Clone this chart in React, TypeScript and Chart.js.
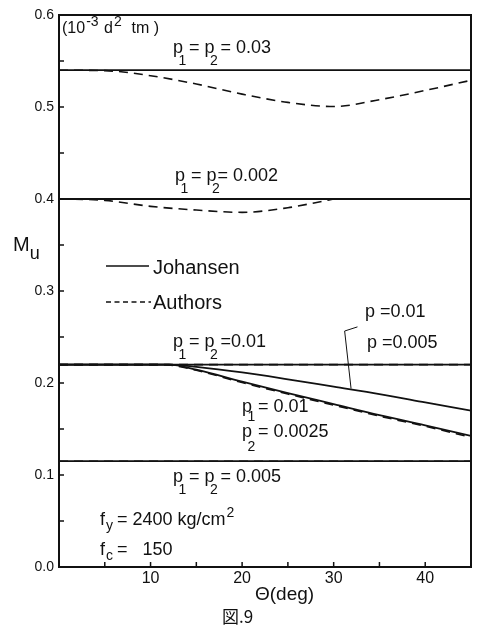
import React, { useEffect, useRef } from 'react';
import { Chart, registerables } from 'chart.js';

Chart.register(...registerables);

// ---- axis ranges / tick labels ----
const X_MIN = 0;
const X_MAX = 45;
const Y_MIN = 0;
const Y_MAX = 0.6;
const xLabeledTicks = [10, 20, 30, 40];
const yLabeledTicks = [0, 0.1, 0.2, 0.3, 0.4, 0.5, 0.6];

// ---- Johansen (solid) ----
const thetaFull = [0, 45];
const johansenP003 = [0.54, 0.54];
const johansenP0002 = [0.4, 0.4];
const johansenP001 = [0.22, 0.22];
const johansenP0005 = [0.115, 0.115];

const thetaUnsym = [0, 5, 10, 12, 15, 20, 25, 30, 35, 40, 45];
const johansenP001P0005 = [0.22, 0.22, 0.22, 0.22, 0.2175, 0.2115, 0.204, 0.196, 0.188, 0.179, 0.17];
const johansenP001P00025 = [0.22, 0.22, 0.22, 0.22, 0.2145, 0.2015, 0.189, 0.177, 0.165, 0.154, 0.1424];

// ---- Authors (dashed) ----
const thetaAuthors003 = [0, 5, 10, 15, 20, 25, 30, 35, 40, 45];
const authorsP003 = [0.54, 0.5395, 0.534, 0.525, 0.514, 0.505, 0.5005, 0.508, 0.518, 0.529];
const thetaAuthors0002 = [0, 5, 10, 15, 20, 25, 28, 30];
const authorsP0002 = [0.4, 0.3985, 0.392, 0.388, 0.3855, 0.3905, 0.396, 0.4];
const authorsP001 = [0.22, 0.22];
const authorsP001P00025 = [0.22, 0.22, 0.22, 0.2195, 0.2138, 0.2005, 0.188, 0.176, 0.164, 0.153, 0.141];
const authorsP0005 = [0.115, 0.115];

// ---- leader line for "p=0.01 / p=0.005" label ----
const leaderTheta = [32.6, 31.2, 31.9];
const leaderMu = [0.261, 0.2565, 0.194];

const FONT = '"Liberation Sans", Arial, sans-serif';
const INK = '#111';

type Seg = { t: string; sub?: boolean; sup?: boolean; dy?: number; dx?: number; adv?: number; size?: number };
type Note = { x: number; y: number; size: number; segs: Seg[]; font?: string };

const notes: Note[] = [
  { x: 62, y: 33, size: 16, segs: [{ t: '(10' }, { t: '-3', sup: true, size: 14 }, { t: ' d' }, { t: '2', sup: true, size: 14 }, { t: '  tm )' }] },
  { x: 173, y: 53, size: 18, segs: [{ t: 'p' }, { t: '1', sub: true }, { t: ' = p' }, { t: '2', sub: true }, { t: ' = 0.03' }] },
  { x: 175, y: 181, size: 18, segs: [{ t: 'p' }, { t: '1', sub: true }, { t: ' = p' }, { t: '2', sub: true }, { t: '= 0.002' }] },
  { x: 173, y: 347, size: 18, segs: [{ t: 'p' }, { t: '1', sub: true }, { t: ' = p' }, { t: '2', sub: true }, { t: ' =0.01' }] },
  { x: 365, y: 317, size: 18, segs: [{ t: 'p =0.01' }] },
  { x: 367, y: 348, size: 18, segs: [{ t: 'p =0.005' }] },
  { x: 242, y: 412, size: 18, segs: [{ t: 'p' }, { t: '1', sub: true, dy: 9 }, { t: ' = 0.01' }] },
  { x: 242, y: 437, size: 18, segs: [{ t: 'p' }, { t: '2', sub: true, dy: 14 }, { t: ' = 0.0025' }] },
  { x: 173, y: 482, size: 18, segs: [{ t: 'p' }, { t: '1', sub: true }, { t: ' = p' }, { t: '2', sub: true }, { t: ' = 0.005' }] },
  { x: 100, y: 525, size: 18, segs: [{ t: 'f' }, { t: 'y', sub: true, dy: 5, dx: 1, adv: 7 }, { t: ' = 2400 kg/cm' }, { t: '2', sup: true }] },
  { x: 100, y: 555, size: 18, segs: [{ t: 'f' }, { t: 'c', sub: true, dy: 5, dx: 1, adv: 7 }, { t: ' =   150' }] },
  { x: 13, y: 251, size: 20, segs: [{ t: 'M' }, { t: 'u', sub: true, dy: 8, dx: 0, adv: 10, size: 18 }] },
  { x: 153, y: 274, size: 20, segs: [{ t: 'Johansen' }] },
  { x: 153, y: 309, size: 20, segs: [{ t: 'Authors' }] },
  { x: 255, y: 600, size: 19, segs: [{ t: 'Θ(deg)' }] },
  { x: 222, y: 623, size: 17, segs: [{ t: '図.9' }], font: '"Noto Sans CJK JP", sans-serif' },
];

function drawRich(ctx: CanvasRenderingContext2D, n: Note) {
  const fam = n.font || FONT;
  let cx = n.x;
  ctx.textAlign = 'left';
  ctx.textBaseline = 'alphabetic';
  ctx.fillStyle = INK;
  for (const s of n.segs) {
    if (s.sub) {
      const fs = s.size || Math.round(n.size * 0.8);
      ctx.font = `${fs}px ${fam}`;
      const dx = s.dx !== undefined ? s.dx : -n.size * 0.25;
      const dy = s.dy !== undefined ? s.dy : n.size * 0.65;
      ctx.fillText(s.t, cx + dx, n.y + dy);
      cx += s.adv !== undefined ? s.adv : 1;
    } else if (s.sup) {
      const fs = s.size || Math.round(n.size * 0.75);
      ctx.font = `${fs}px ${fam}`;
      ctx.fillText(s.t, cx + 1, n.y - n.size * 0.42);
      cx += ctx.measureText(s.t).width + 2;
    } else {
      ctx.font = `${n.size}px ${fam}`;
      ctx.fillText(s.t, cx, n.y);
      cx += ctx.measureText(s.t).width;
    }
  }
}

const decorPlugin = {
  id: 'decor',
  afterDraw(chart: any) {
    const ctx: CanvasRenderingContext2D = chart.ctx;
    const { left, right, top, bottom } = chart.chartArea;
    const xs = chart.scales.x;
    const ys = chart.scales.y;
    ctx.save();
    // frame
    ctx.strokeStyle = INK;
    ctx.lineWidth = 2;
    ctx.strokeRect(left, top, right - left, bottom - top);
    // inward ticks
    ctx.lineWidth = 1.5;
    ctx.beginPath();
    for (const t of xs.ticks) {
      if (t.value <= X_MIN || t.value >= X_MAX) continue;
      const px = xs.getPixelForValue(t.value);
      ctx.moveTo(px, bottom);
      ctx.lineTo(px, bottom - 5);
    }
    for (const t of ys.ticks) {
      if (t.value <= Y_MIN + 1e-9 || t.value >= Y_MAX - 1e-9) continue;
      const py = ys.getPixelForValue(t.value);
      ctx.moveTo(left, py);
      ctx.lineTo(left + 5, py);
    }
    ctx.stroke();
    // legend samples
    ctx.lineWidth = 1.4;
    ctx.beginPath();
    ctx.moveTo(106, 266);
    ctx.lineTo(149, 266);
    ctx.stroke();
    ctx.setLineDash([5, 3.5]);
    ctx.beginPath();
    ctx.moveTo(106, 302);
    ctx.lineTo(151, 302);
    ctx.stroke();
    ctx.setLineDash([]);
    // texts
    for (const n of notes) drawRich(ctx, n);
    ctx.restore();
  },
};

function pts(xs: number[], ys: number[]) {
  return xs.map((x, i) => ({ x, y: ys[i] }));
}

export default function App() {
  const ref = useRef<HTMLCanvasElement | null>(null);
  useEffect(() => {
    if (!ref.current) return;
    const solid = (data: any[]) => ({
      data,
      borderColor: INK,
      borderWidth: 1.8,
      pointRadius: 0,
      fill: false,
      cubicInterpolationMode: 'monotone' as const,
    });
    const dashed = (data: any[]) => ({
      data,
      borderColor: INK,
      borderWidth: 1.6,
      borderDash: [9, 6],
      pointRadius: 0,
      fill: false,
      cubicInterpolationMode: 'monotone' as const,
    });
    const datasets: any[] = [
      { label: 'Johansen p1=p2=0.03', ...solid(pts(thetaFull, johansenP003)) },
      { label: 'Johansen p1=p2=0.002', ...solid(pts(thetaFull, johansenP0002)) },
      { label: 'Johansen p1=p2=0.01', ...solid(pts(thetaFull, johansenP001)) },
      { label: 'Johansen p1=p2=0.005', ...solid(pts(thetaFull, johansenP0005)) },
      { label: 'Johansen p=0.01 p=0.005', ...solid(pts(thetaUnsym, johansenP001P0005)) },
      { label: 'Johansen p1=0.01 p2=0.0025', ...solid(pts(thetaUnsym, johansenP001P00025)) },
      { label: 'Authors p1=p2=0.03', ...dashed(pts(thetaAuthors003, authorsP003)) },
      { label: 'Authors p1=p2=0.002', ...dashed(pts(thetaAuthors0002, authorsP0002)) },
      { label: 'Authors p1=p2=0.01', ...dashed(pts(thetaFull, authorsP001)) },
      { label: 'Authors p1=0.01 p2=0.0025', ...dashed(pts(thetaUnsym, authorsP001P00025)) },
      { label: 'Authors p1=p2=0.005', ...dashed(pts(thetaFull, authorsP0005)) },
      {
        label: 'leader',
        data: pts(leaderTheta, leaderMu),
        borderColor: INK,
        borderWidth: 1,
        pointRadius: 0,
        tension: 0,
        fill: false,
      },
    ];
    const chart = new Chart(ref.current, {
      type: 'line',
      data: { datasets },
      options: {
        animation: false,
        responsive: false,
        devicePixelRatio: 1,
        layout: { padding: { top: 15, right: 8, left: 0, bottom: 0 } },
        plugins: {
          legend: { display: false },
          tooltip: { enabled: false },
          title: { display: false },
        },
        scales: {
          x: {
            type: 'linear',
            min: X_MIN,
            max: X_MAX,
            grid: { display: false, drawTicks: false },
            border: { display: false },
            ticks: {
              stepSize: 5,
              autoSkip: false,
              maxRotation: 0,
              padding: 2,
              color: INK,
              font: { family: FONT, size: 16 },
              callback: (v: any) => (xLabeledTicks.includes(Number(v)) ? String(v) : ''),
            },
            afterFit: (s: any) => {
              s.height = 66;
            },
          },
          y: {
            type: 'linear',
            min: Y_MIN,
            max: Y_MAX,
            grid: { display: false, drawTicks: false },
            border: { display: false },
            ticks: {
              stepSize: 0.05,
              autoSkip: false,
              padding: 5,
              color: INK,
              font: { family: FONT, size: 14 },
              callback: (v: any) =>
                yLabeledTicks.some((t) => Math.abs(t - Number(v)) < 1e-9) ? Number(v).toFixed(1) : '',
            },
            afterFit: (s: any) => {
              s.width = 59;
            },
          },
        },
      },
      plugins: [decorPlugin],
    });
    return () => chart.destroy();
  }, []);
  return (
    <canvas
      ref={ref}
      width={479}
      height={633}
      style={{ position: 'fixed', left: 0, top: 0, width: 479, height: 633, background: '#fff' }}
    />
  );
}
